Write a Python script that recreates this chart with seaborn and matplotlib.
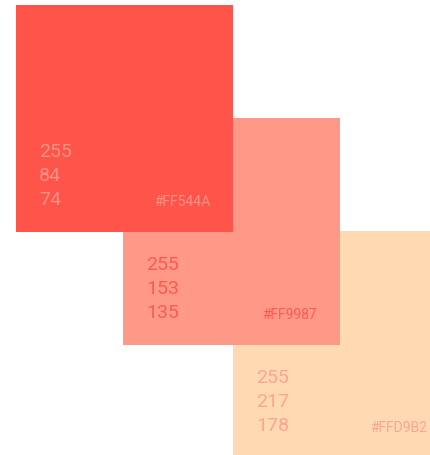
import matplotlib
matplotlib.use("Agg")
import matplotlib.pyplot as plt
import seaborn as sns

# swatch data
hex_codes = ["#FF544A", "#FF9987", "#FFD9B2"]
red = [255, 255, 255]
green = [84, 153, 217]
blue = [74, 135, 178]
text_colors = ["#FF9285", "#FF5A4F", "#FFA493"]

sns.set_style("white")
plt.rcParams["font.family"] = ["Roboto", "DejaVu Sans"]

fig = plt.figure(figsize=(4.30, 4.55), dpi=100)
ax = fig.add_axes([0, 0, 1, 1])

# layout in pixels
lefts = [16, 123, 233]
tops = [5, 118, 231]
w, h = 217, 227

palette = sns.color_palette(hex_codes)
for i in range(3):
    # first swatch sits on top of the others
    z = 10 - 2 * i
    ax.bar(lefts[i], h, width=w, bottom=tops[i], align="edge",
           color=palette[i], linewidth=0, zorder=z)
    x0, y0 = lefts[i], tops[i]
    for j, v in enumerate([red[i], green[i], blue[i]]):
        ax.text(x0 + 23, y0 + 147 + 24 * j, str(v), fontsize=14,
                color=text_colors[i], va="center", ha="left", zorder=z + 1)
    ax.text(x0 + 194, y0 + 197, hex_codes[i], fontsize=10,
            color=text_colors[i], va="center", ha="right", zorder=z + 1)

ax.set_xlim(0, 430)
ax.set_ylim(455, 0)
ax.axis("off")

fig.savefig("out.png", dpi=100)
plt.close()
